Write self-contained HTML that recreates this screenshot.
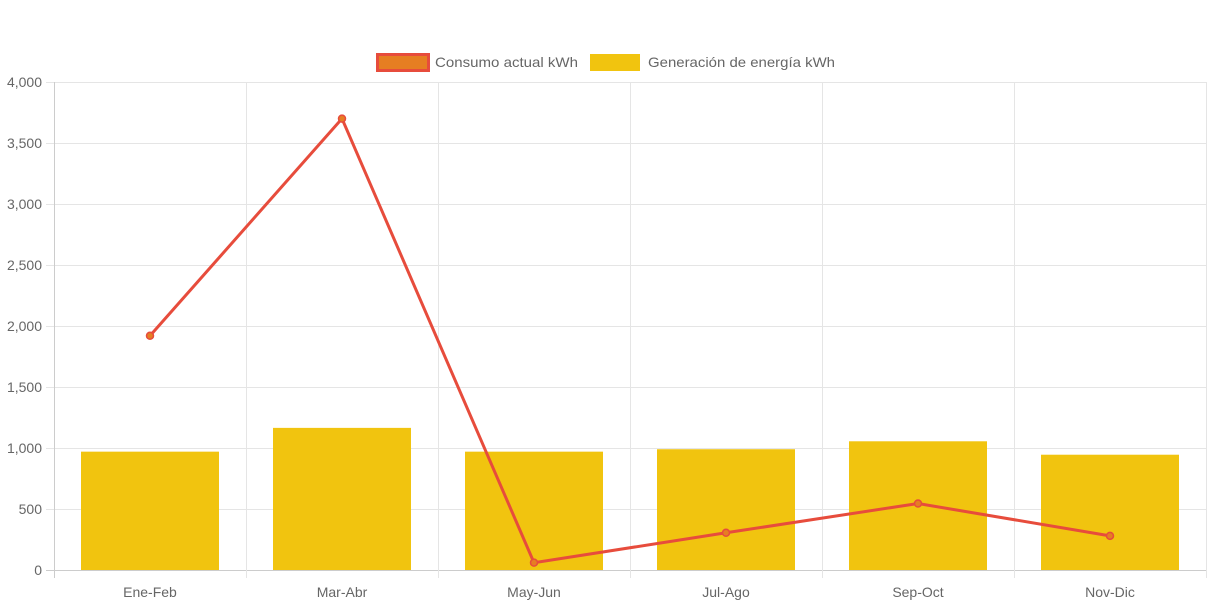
<!DOCTYPE html>
<html><head><meta charset="utf-8"><style>
body{margin:0;background:#fff;font-family:"Liberation Sans",sans-serif;}
svg text{font-family:"Liberation Sans",sans-serif;fill:#666;font-size:14px;}
</style></head><body>
<svg id="chart" width="1213" height="606" xmlns="http://www.w3.org/2000/svg">
<g id="legend">
<g>
<rect x="377.5" y="54.5" width="51" height="16" fill="#e67e22" stroke="#e74c3c" stroke-width="3"/>
<text x="435" y="67" textLength="143" lengthAdjust="spacingAndGlyphs">Consumo actual kWh</text></g>
<g>
<rect x="590.5" y="54.5" width="49" height="16" fill="#f1c40f" stroke="#f1c40f" stroke-width="1"/>
<text x="648" y="67" textLength="187" lengthAdjust="spacingAndGlyphs">Generación de energía kWh</text></g>
</g>
<g id="grid"></g>
<g id="bars"></g>
<g id="line"></g>
</svg>
<script>
const categories=["Ene-Feb","Mar-Abr","May-Jun","Jul-Ago","Sep-Oct","Nov-Dic"];
const generacion=[970,1165,970,990,1055,945];
const consumo=[1920,3700,60,305,545,280];
const yTicks=[0,500,1000,1500,2000,2500,3000,3500,4000];
const NS="http://www.w3.org/2000/svg";
const L=54,R=1206,T=82,B=570,YMAX=4000;
const bw=(R-L)/categories.length;
const x=i=>L+bw*(i+0.5);
const y=v=>B-(v/YMAX)*(B-T);
function mk(t,a,p){const e=document.createElementNS(NS,t);for(const k in a)e.setAttribute(k,a[k]);p.appendChild(e);return e;}
const grid=document.getElementById('grid');
yTicks.forEach(v=>{
 const l=mk('line',{x1:L-8,x2:R,y1:y(v)+.5,y2:y(v)+.5,stroke:v===0?'#ccc':'#e5e5e5'},grid);
 
 
 const t=mk('text',{x:L-12,y:y(v)+5,'text-anchor':'end'},grid);t.textContent=v.toLocaleString('en-US');
 
 
});
for(let i=0;i<=categories.length;i++){
 const xx=Math.round(L+bw*i)+.5;
 const l=mk('line',{x1:xx,x2:xx,y1:T,y2:B+8,stroke:i===0?'#ccc':'#e5e5e5'},grid);
 
 
}
categories.forEach((c,i)=>{
 const t=mk('text',{x:x(i),y:597,'text-anchor':'middle'},grid);t.textContent=c;
 
 
});
const bars=document.getElementById('bars');
generacion.forEach((v,i)=>{
 const r=mk('rect',{x:x(i)-69,y:y(v),width:138,height:B-y(v),fill:'#f1c40f'},bars);
 
 
});
const lg=document.getElementById('line');
const p=mk('polyline',{points:consumo.map((v,i)=>x(i)+','+y(v)).join(' '),fill:'none',stroke:'#e74c3c','stroke-width':3},lg);


consumo.forEach((v,i)=>{
 const c=mk('circle',{cx:x(i),cy:y(v),r:3.5,fill:'#e67e22',stroke:'#e74c3c','stroke-width':1.5},lg);
 
 
});
</script>
</body></html>
